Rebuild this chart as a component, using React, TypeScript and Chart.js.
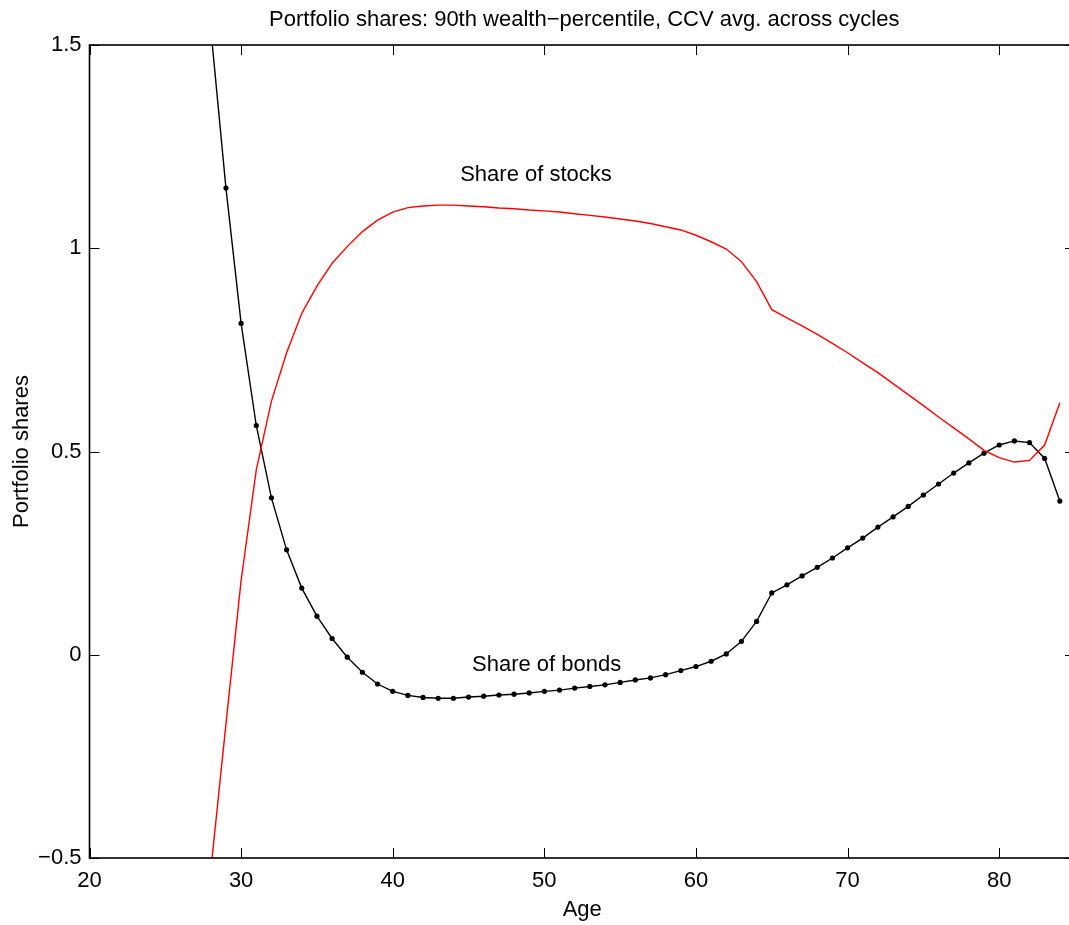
import React, { useEffect, useRef } from "react";
import { Chart, registerables } from "chart.js";

Chart.register(...registerables);

// ---- data ----
const ages = [
  28, 29, 30, 31, 32, 33, 34, 35, 36, 37, 38, 39, 40, 41, 42, 43, 44, 45, 46, 47,
  48, 49, 50, 51, 52, 53, 54, 55, 56, 57, 58, 59, 60, 61, 62, 63, 64, 65, 66, 67,
  68, 69, 70, 71, 72, 73, 74, 75, 76, 77, 78, 79, 80, 81, 82, 83, 84,
];

const stockShares = [
  -0.53, -0.17, 0.183, 0.455, 0.624, 0.743, 0.84, 0.907, 0.963, 1.004, 1.041, 1.069,
  1.089, 1.1, 1.104, 1.106, 1.106, 1.104, 1.102, 1.099, 1.097, 1.094, 1.092, 1.089,
  1.085, 1.081, 1.077, 1.072, 1.067, 1.061, 1.053, 1.045, 1.032, 1.016, 0.998, 0.967,
  0.918, 0.849, 0.829, 0.809, 0.788, 0.766, 0.743, 0.718, 0.694, 0.667, 0.64, 0.613,
  0.585, 0.558, 0.531, 0.503, 0.485, 0.474, 0.478, 0.516, 0.62,
];

const bondShares = [
  1.54, 1.148, 0.815, 0.564, 0.386, 0.258, 0.164, 0.095, 0.04, -0.006, -0.043, -0.072,
  -0.09, -0.1, -0.105, -0.107, -0.107, -0.104, -0.102, -0.099, -0.097, -0.094, -0.09,
  -0.087, -0.082, -0.078, -0.074, -0.068, -0.062, -0.057, -0.049, -0.039, -0.029,
  -0.016, 0.002, 0.033, 0.082, 0.152, 0.172, 0.194, 0.215, 0.238, 0.263, 0.287, 0.314,
  0.339, 0.365, 0.393, 0.42, 0.447, 0.472, 0.496, 0.516, 0.526, 0.522, 0.483, 0.378,
];

const xTickValues = [20, 30, 40, 50, 60, 70, 80];
const yTickValues = [-0.5, 0, 0.5, 1, 1.5];

const chartTitle = "Portfolio shares: 90th wealth\u2212percentile, CCV avg. across cycles";
const xAxisTitle = "Age";
const yAxisTitle = "Portfolio shares";

const seriesLabels = ["Share of stocks", "Share of bonds"];
const labelAges = [49.45, 50.15];
const labelValues = [1.18, -0.024];

const FONT = '"Liberation Sans", Arial, Helvetica, sans-serif';

const fmtY = (v: number) => (v < 0 ? "\u2212" + String(Math.abs(v)) : String(v));

const decorPlugin = {
  id: "decor",
  afterDraw(chart: any) {
    const { ctx, chartArea: a, scales } = chart;
    ctx.save();
    ctx.strokeStyle = "#000";
    ctx.lineWidth = 1;
    const tl = 10;
    const seg = (x1: number, y1: number, x2: number, y2: number) => {
      ctx.beginPath();
      ctx.moveTo(x1, y1);
      ctx.lineTo(x2, y2);
      ctx.stroke();
    };
    for (const v of xTickValues) {
      const px = Math.round(scales.x.getPixelForValue(v)) + 0.5;
      seg(px, a.bottom, px, a.bottom - tl);
      seg(px, a.top, px, a.top + tl);
    }
    for (const v of yTickValues) {
      const py = Math.round(scales.y.getPixelForValue(v)) + 0.5;
      seg(a.left, py, a.left + tl, py);
      seg(a.right, py, a.right - tl, py);
    }
    ctx.lineWidth = 1.6;
    ctx.strokeRect(a.left, a.top, a.right - a.left, a.bottom - a.top);

    ctx.fillStyle = "#000";
    ctx.font = `22px ${FONT}`;
    ctx.textAlign = "center";
    ctx.textBaseline = "middle";
    const cx = (a.left + a.right) / 2;
    ctx.fillText(chartTitle, cx + 2, 20);
    ctx.fillText(xAxisTitle, cx, 910);

    for (let i = 0; i < seriesLabels.length; i++) {
      ctx.fillText(
        seriesLabels[i],
        scales.x.getPixelForValue(labelAges[i]),
        scales.y.getPixelForValue(labelValues[i])
      );
    }

    ctx.translate(22, (a.top + a.bottom) / 2);
    ctx.rotate(-Math.PI / 2);
    ctx.fillText(yAxisTitle, 0, 0);
    ctx.restore();
  },
};

export default function App() {
  const ref = useRef<HTMLCanvasElement | null>(null);

  useEffect(() => {
    if (!ref.current) return;
    const chart = new Chart(ref.current, {
      type: "line",
      data: {
        datasets: [
          {
            label: seriesLabels[0],
            data: ages.map((x, i) => ({ x, y: stockShares[i] })),
            borderColor: "#ff0000",
            borderWidth: 1.4,
            pointRadius: 0,
            tension: 0,
            fill: false,
          },
          {
            label: seriesLabels[1],
            data: ages.map((x, i) => ({ x, y: bondShares[i] })),
            borderColor: "#000000",
            borderWidth: 1.4,
            pointRadius: 2.6,
            pointBackgroundColor: "#000000",
            pointBorderWidth: 0,
            tension: 0,
            fill: false,
          },
        ],
      },
      options: {
        responsive: false,
        animation: false,
        devicePixelRatio: 1,
        layout: { padding: { top: 45, right: 5, left: 0, bottom: 0 } },
        plugins: {
          legend: { display: false },
          tooltip: { enabled: false },
          title: { display: false },
        },
        scales: {
          x: {
            type: "linear",
            min: 20,
            max: 85,
            grid: { display: false, drawTicks: false },
            border: { display: false },
            afterBuildTicks: (s: any) => {
              s.ticks = xTickValues.map((value) => ({ value }));
            },
            afterFit: (s: any) => {
              s.height = 67;
            },
            ticks: {
              autoSkip: false,
              maxRotation: 0,
              padding: 10,
              color: "#000",
              font: { family: FONT, size: 22 },
              callback: (v: any) => String(v),
            },
          },
          y: {
            type: "linear",
            min: -0.5,
            max: 1.5,
            grid: { display: false, drawTicks: false },
            border: { display: false },
            afterBuildTicks: (s: any) => {
              s.ticks = yTickValues.map((value) => ({ value }));
            },
            afterFit: (s: any) => {
              s.width = 89.5;
            },
            ticks: {
              autoSkip: false,
              padding: 8,
              color: "#000",
              font: { family: FONT, size: 22 },
              callback: (v: any) => fmtY(Number(v)),
            },
          },
        },
      },
      plugins: [decorPlugin],
    });
    return () => chart.destroy();
  }, []);

  return (
    <div
      style={{
        position: "fixed",
        left: 0,
        top: 0,
        width: 1069,
        height: 925,
        overflow: "hidden",
        background: "#fff",
      }}
    >
      <canvas ref={ref} width={1080} height={925} style={{ display: "block" }} />
    </div>
  );
}
